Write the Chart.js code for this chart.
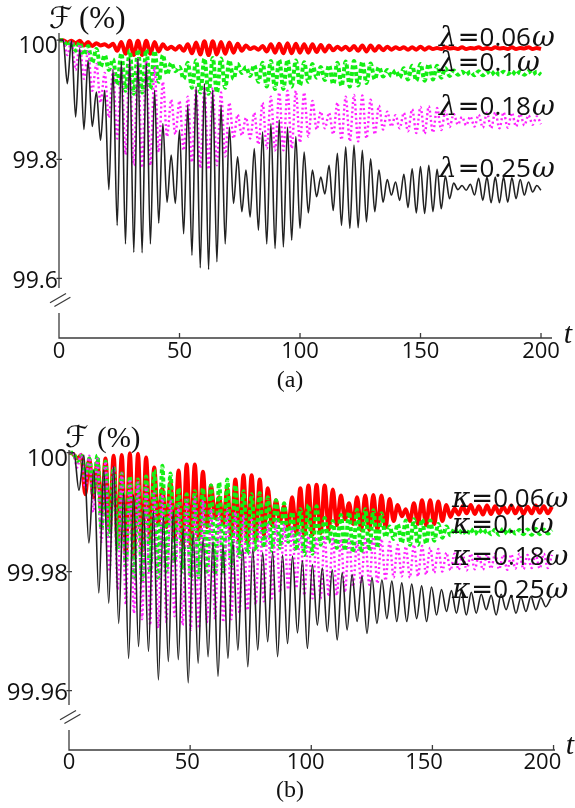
<!DOCTYPE html>
<html>
<head>
<meta charset="utf-8">
<script src="https://cdn.jsdelivr.net/npm/chart.js@4.4.1/dist/chart.umd.min.js"></script>
<style>
  html, body { margin: 0; padding: 0; background: #fff; }
  #wrap { position: relative; width: 575px; height: 808px; }
  canvas { position: absolute; left: 0; }
  #chartA { top: 0; }
  #chartB { top: 400px; }
</style>
</head>
<body>
<div id="wrap">
  <canvas id="chartA" width="575" height="400"></canvas>
  <canvas id="chartB" width="575" height="408"></canvas>
</div>
<script>
// ---- data: troughs (lo) and crests (hi) of each oscillation ----
const xTicks = [0, 50, 100, 150, 200];
const yTicksA = [100, 99.8, 99.6];
const yTicksB = [100, 99.98, 99.96];
const ratesA = ['0.06', '0.1', '0.18', '0.25'];
const ratesB = ['0.06', '0.1', '0.18', '0.25'];

// oscillation periods (time units) measured on the plots
const PERIOD_A = 3.448;
const PERIOD_B = 3.35;
const PERIOD_B_BLACK = 4.1;

// panel (a), lambda = 0.06, 0.1, 0.18, 0.25
const redA_lo = [100.000, 99.996, 99.995, 99.991, 99.990, 99.991, 99.989, 99.982, 99.977, 99.975,
  99.975, 99.977, 99.981, 99.985, 99.984, 99.982, 99.978, 99.976, 99.975, 99.976,
  99.977, 99.979, 99.982, 99.985, 99.984, 99.981, 99.979, 99.978, 99.978, 99.979,
  99.979, 99.980, 99.981, 99.983, 99.984, 99.983, 99.982, 99.981, 99.982, 99.983,
  99.984, 99.985, 99.984, 99.984, 99.984, 99.985, 99.985, 99.986, 99.985, 99.985,
  99.986, 99.985, 99.985, 99.986, 99.985, 99.985, 99.986, 99.985, 99.985];
const redA_hi = [100.000, 99.999, 99.999, 99.997, 99.995, 99.993, 99.994, 99.997, 99.999, 99.999,
  99.999, 99.997, 99.993, 99.989, 99.990, 99.993, 99.996, 99.998, 99.998, 99.997,
  99.996, 99.994, 99.991, 99.988, 99.990, 99.993, 99.994, 99.995, 99.994, 99.993,
  99.993, 99.992, 99.991, 99.989, 99.989, 99.990, 99.991, 99.991, 99.990, 99.989,
  99.988, 99.988, 99.988, 99.989, 99.988, 99.987, 99.988, 99.987, 99.988, 99.987,
  99.988, 99.987, 99.988, 99.987, 99.988, 99.987, 99.988, 99.987];

const greenA_lo = [100.000, 99.990, 99.982, 99.975, 99.962, 99.955, 99.950, 99.925, 99.915, 99.910,
  99.912, 99.918, 99.930, 99.942, 99.948, 99.935, 99.920, 99.912, 99.910, 99.912,
  99.920, 99.935, 99.945, 99.940, 99.930, 99.922, 99.918, 99.918, 99.922, 99.924,
  99.930, 99.937, 99.933, 99.926, 99.923, 99.922, 99.924, 99.928, 99.934, 99.939,
  99.940, 99.937, 99.934, 99.932, 99.932, 99.934, 99.937, 99.940, 99.942, 99.942,
  99.941, 99.941, 99.942, 99.942, 99.943, 99.942, 99.942, 99.943, 99.942];
const greenA_hi = [100.000, 99.998, 99.996, 99.990, 99.985, 99.975, 99.968,
  99.978, 99.982, 99.984, 99.984, 99.982, 99.975, 99.962, 99.955,
  99.962, 99.966, 99.969, 99.970, 99.969, 99.966, 99.960, 99.955,
  99.958, 99.962, 99.965, 99.967, 99.967, 99.966, 99.963,
  99.960, 99.955, 99.958, 99.962, 99.964, 99.965, 99.964, 99.961, 99.955, 99.950,
  99.949, 99.953, 99.957, 99.960, 99.960, 99.957, 99.953, 99.949, 99.947, 99.947,
  99.948, 99.947, 99.948, 99.947, 99.948, 99.947, 99.948, 99.947];

const magentaA_lo = [100.000, 99.975, 99.950, 99.935, 99.915, 99.895, 99.870,
  99.835, 99.808, 99.790, 99.786, 99.790, 99.812, 99.838, 99.842,
  99.815, 99.795, 99.785, 99.783, 99.790, 99.805, 99.835, 99.840, 99.835,
  99.825, 99.818, 99.815, 99.815, 99.818,
  99.828, 99.838, 99.850, 99.852, 99.842, 99.833, 99.830, 99.830, 99.835, 99.842,
  99.850, 99.855, 99.852, 99.847, 99.844, 99.843, 99.845, 99.849, 99.854, 99.858,
  99.857, 99.855, 99.853, 99.852, 99.852, 99.853, 99.855, 99.857, 99.858, 99.859];
const magentaA_hi = [100.000, 99.999, 99.993, 99.982, 99.960, 99.945, 99.950,
  99.955, 99.965, 99.968, 99.965, 99.955, 99.930, 99.900, 99.898,
  99.905, 99.918, 99.922, 99.920, 99.912, 99.895, 99.875, 99.870, 99.878,
  99.895, 99.905, 99.912, 99.915, 99.915,
  99.912, 99.898, 99.880, 99.878, 99.895, 99.905, 99.908, 99.907, 99.900, 99.890,
  99.880, 99.874, 99.878, 99.884, 99.888, 99.889, 99.886, 99.881, 99.876, 99.871,
  99.872, 99.875, 99.878, 99.879, 99.879, 99.878, 99.876, 99.874, 99.872];

const blackA_lo = [100.000, 99.927, 99.871, 99.850, 99.855, 99.832, 99.749, 99.689, 99.658, 99.644,
  99.643, 99.658, 99.693, 99.728, 99.726, 99.675, 99.639, 99.618, 99.615, 99.628,
  99.658, 99.726, 99.712, 99.703, 99.681, 99.658, 99.650, 99.653, 99.664, 99.684,
  99.710, 99.737, 99.742, 99.714, 99.689, 99.684, 99.685, 99.695, 99.712, 99.728,
  99.740, 99.731, 99.719, 99.710, 99.709, 99.712, 99.717, 99.734, 99.749, 99.748,
  99.740, 99.731, 99.727, 99.727, 99.728, 99.734, 99.740, 99.745, 99.748];
const blackA_hi = [100.000, 99.999, 99.986, 99.966, 99.913, 99.916, 99.950, 99.964, 99.969, 99.969,
  99.961, 99.916, 99.860, 99.807, 99.849, 99.891, 99.922, 99.927, 99.916, 99.891,
  99.854, 99.804, 99.782, 99.818, 99.846, 99.860, 99.866, 99.854, 99.838, 99.812,
  99.782, 99.770, 99.790, 99.810, 99.821, 99.824, 99.815, 99.801, 99.782, 99.766,
  99.762, 99.775, 99.784, 99.788, 99.790, 99.783, 99.772, 99.760, 99.756, 99.758,
  99.768, 99.770, 99.770, 99.770, 99.769, 99.766, 99.762, 99.756];

// panel (b), kappa = 0.06, 0.1, 0.18, 0.25
const redB_lo = [100.000, 99.9990, 99.9930, 99.9925, 99.9900, 99.9870, 99.9845, 99.9830, 99.9825, 99.9835, 99.9855,
  99.9880, 99.9875, 99.9855, 99.9845, 99.9845, 99.9855, 99.9875, 99.9890, 99.9880, 99.9860,
  99.9850, 99.9848, 99.9852, 99.9862, 99.9878, 99.9885, 99.9875, 99.9865, 99.9862, 99.9862,
  99.9865, 99.9870, 99.9878, 99.9888, 99.9880, 99.9870, 99.9870, 99.9870, 99.9874, 99.9885,
  99.9893, 99.9885, 99.9880, 99.9878, 99.9880, 99.9885, 99.9892, 99.9896, 99.9898, 99.9897,
  99.9896, 99.9897, 99.9898, 99.9899, 99.9898, 99.9897, 99.9898, 99.9899, 99.9898];
const redB_hi = [99.9998, 99.9996, 99.9990, 99.9985, 99.9990, 99.9995, 99.9996, 99.9999, 99.9998, 99.9992, 99.9975,
  99.9940, 99.9950, 99.9970, 99.9980, 99.9980, 99.9968, 99.9945, 99.9925, 99.9940, 99.9955,
  99.9962, 99.9962, 99.9955, 99.9940, 99.9920, 99.9910, 99.9925, 99.9940, 99.9945, 99.9946,
  99.9945, 99.9938, 99.9928, 99.9915, 99.9925, 99.9928, 99.9929, 99.9928, 99.9922, 99.9912,
  99.9905, 99.9915, 99.9920, 99.9920, 99.9918, 99.9912, 99.9906, 99.9910, 99.9912, 99.9910,
  99.9911, 99.9910, 99.9909, 99.9911, 99.9910, 99.9909, 99.9911, 99.9910, 99.9909];

const greenB_lo = [100.000, 99.9985, 99.9960, 99.9930, 99.9870, 99.9860, 99.9835, 99.9810, 99.9790, 99.9785, 99.9800,
  99.9790, 99.9800, 99.9815, 99.9800, 99.9790, 99.9790, 99.9800, 99.9795, 99.9800, 99.9810,
  99.9825, 99.9830, 99.9835, 99.9840, 99.9835, 99.9840, 99.9850, 99.9835, 99.9828, 99.9830,
  99.9845, 99.9850, 99.9840, 99.9835, 99.9832, 99.9832, 99.9835, 99.9840, 99.9858, 99.9855,
  99.9848, 99.9845, 99.9845, 99.9847, 99.9852, 99.9857, 99.9861, 99.9863, 99.9862, 99.9863,
  99.9864, 99.9863, 99.9862, 99.9863, 99.9864, 99.9863, 99.9862, 99.9863, 99.9864];
const greenB_hi = [100.000, 99.9995, 99.9990, 99.9995, 99.9985, 99.9975, 99.9965, 99.9960, 99.9955, 99.9960, 99.9970,
  99.9978, 99.9965, 99.9940, 99.9930, 99.9935, 99.9940, 99.9945, 99.9950, 99.9955, 99.9945,
  99.9935, 99.9930, 99.9932, 99.9925, 99.9920, 99.9915, 99.9900, 99.9905, 99.9912, 99.9910,
  99.9890, 99.9885, 99.9895, 99.9900, 99.9904, 99.9905, 99.9903, 99.9898, 99.9876, 99.9880,
  99.9886, 99.9888, 99.9888, 99.9886, 99.9880, 99.9876, 99.9872, 99.9871, 99.9872, 99.9871,
  99.9870, 99.9871, 99.9872, 99.9871, 99.9870, 99.9871, 99.9872, 99.9871, 99.9870];

const magentaB_lo = [100.000, 99.9975, 99.9940, 99.9900, 99.9850, 99.9800, 99.9770, 99.9745, 99.9730, 99.9720, 99.9710,
  99.9705, 99.9715, 99.9725, 99.9710, 99.9702, 99.9705, 99.9715, 99.9720, 99.9715, 99.9720,
  99.9730, 99.9735, 99.9745, 99.9750, 99.9755, 99.9765, 99.9770, 99.9772, 99.9760, 99.9755,
  99.9755, 99.9758, 99.9760, 99.9765, 99.9775, 99.9780, 99.9778, 99.9780, 99.9785, 99.9790,
  99.9792, 99.9790, 99.9792, 99.9795, 99.9798, 99.9800, 99.9802, 99.9803, 99.9802, 99.9804,
  99.9803, 99.9805, 99.9804, 99.9803, 99.9805, 99.9804, 99.9806, 99.9805, 99.9806];
const magentaB_hi = [100.000, 99.9998, 99.9995, 99.9990, 99.9985, 99.9975, 99.9965, 99.9955, 99.9950, 99.9945, 99.9935,
  99.9930, 99.9920, 99.9910, 99.9920, 99.9925, 99.9920, 99.9905, 99.9900, 99.9905, 99.9900,
  99.9895, 99.9890, 99.9885, 99.9880, 99.9885, 99.9880, 99.9875, 99.9870, 99.9860, 99.9858,
  99.9860, 99.9858, 99.9855, 99.9855, 99.9850, 99.9855, 99.9858, 99.9855, 99.9850, 99.9845,
  99.9842, 99.9845, 99.9843, 99.9840, 99.9838, 99.9832, 99.9830, 99.9829, 99.9830, 99.9828,
  99.9829, 99.9830, 99.9828, 99.9829, 99.9830, 99.9828, 99.9829, 99.9830, 99.9828];

const blackB_lo = [100.000, 99.9937, 99.9848, 99.9764, 99.9747, 99.9713, 99.9654, 99.9674, 99.9666, 99.9618,
  99.9649, 99.9652, 99.9613, 99.9646, 99.9657, 99.9624, 99.9654, 99.9668, 99.9640, 99.9668,
  99.9682, 99.9657, 99.9679, 99.9697, 99.9671, 99.9710, 99.9699, 99.9685, 99.9702, 99.9716,
  99.9696, 99.9713, 99.9721, 99.9716, 99.9716, 99.9721, 99.9716, 99.9727, 99.9733, 99.9730,
  99.9727, 99.9730, 99.9736, 99.9727, 99.9736, 99.9730, 99.9733, 99.9736, 99.9741];
const blackB_hi = [100.000, 99.9996, 99.9971, 99.9971, 99.9977, 99.9932, 99.9929, 99.9904, 99.9901, 99.9892,
  99.9901, 99.9873, 99.9865, 99.9856, 99.9850, 99.9845, 99.9850, 99.9840, 99.9838, 99.9832,
  99.9833, 99.9828, 99.9826, 99.9818, 99.9812, 99.9806, 99.9803, 99.9798, 99.9795, 99.9792,
  99.9790, 99.9786, 99.9784, 99.9781, 99.9779, 99.9776, 99.9774, 99.9770, 99.9768, 99.9766,
  99.9765, 99.9762, 99.9760, 99.9762, 99.9759, 99.9757, 99.9758, 99.9756, 99.9755];

// ---- helpers ----
function series(lo, hi, period) {
  const pts = [];
  lo.forEach((v, k) => {
    pts.push({ x: k * period, y: v });
    if (k < hi.length) pts.push({ x: (k + 0.5) * period, y: hi[k] });
  });
  return pts;
}

const styles = {
  red: { borderColor: '#ff0000', borderWidth: 4 },
  green: { borderColor: '#14ee14', borderWidth: 4, borderDash: [4, 2.6] },
  magenta: { borderColor: '#ff22ff', borderWidth: 2.4, borderDash: [2, 2.6] },
  black: { borderColor: '#222222', borderWidth: 1.6 }
};

function dataset(label, data, style, order) {
  return Object.assign({
    label, data, order,
    pointRadius: 0,
    cubicInterpolationMode: 'monotone',
    fill: false,
    clip: false,
    borderCapStyle: 'butt',
    borderJoinStyle: 'round'
  }, style);
}

// axes with a broken y axis, tick labels, captions and the curve labels
const decor = {
  id: 'decor',
  afterDatasetsDraw(chart, args, o) {
    const { ctx, chartArea: a } = chart;
    const xs = chart.scales.x, ys = chart.scales.y;
    const ax = xs.getPixelForValue(0);
    ctx.save();
    ctx.strokeStyle = '#3c3c3c';
    ctx.lineWidth = 1.3;
    ctx.beginPath();
    ctx.moveTo(ax, a.top);
    ctx.lineTo(ax, a.bottom - o.gap[0]);
    ctx.moveTo(ax, a.bottom - o.gap[1]);
    ctx.lineTo(ax, a.bottom);
    ctx.lineTo(a.right, a.bottom);
    o.yTicks.forEach(v => {
      const y = ys.getPixelForValue(v);
      ctx.moveTo(ax - 2.5, y);
      ctx.lineTo(ax + 3, y);
    });
    xTicks.forEach(v => {
      if (!v) return;
      const x = xs.getPixelForValue(v);
      ctx.moveTo(x, a.bottom);
      ctx.lineTo(x, a.bottom - 5);
    });
    ctx.stroke();

    // the // break mark
    ctx.beginPath();
    [-1, 1].forEach(s => {
      const cx = ax + 1.2 + s * 2.2, cy = a.bottom - o.breakAt + s * 1.9;
      ctx.moveTo(cx - 8, cy + 4.6);
      ctx.lineTo(cx + 8, cy - 4.6);
    });
    ctx.stroke();

    ctx.fillStyle = '#111';
    ctx.textBaseline = 'alphabetic';

    // y tick labels
    ctx.font = o.yFont;
    ctx.textAlign = 'right';
    o.yTicks.forEach((v, i) => {
      const y = ys.getPixelForValue(v) + (i === 0 ? 5 : 1) + o.yHalf;
      ctx.fillText(String(v), ax - 1, y);
    });

    // x tick labels
    ctx.font = "22px 'Open Sans'";
    ctx.textAlign = 'center';
    xTicks.forEach(v => {
      const x = ax + (xs.getPixelForValue(v) - ax) * o.xLabelScale;
      ctx.fillText(String(v), x, a.bottom + o.xLabelDy);
    });

    // t, caption, title
    ctx.font = "italic 30px 'Liberation Serif'";
    ctx.fillText('t', o.tPos[0], o.tPos[1]);
    ctx.font = "24px 'Liberation Serif'";
    ctx.fillText(o.caption, o.capPos[0], o.capPos[1]);
    ctx.textAlign = 'left';
    ctx.font = "30px 'DejaVu Sans'";
    ctx.fillText('\u2131', o.title[0], o.title[2]);
    ctx.font = o.title[3] + "px 'Liberation Serif'";
    ctx.fillText('(%)', o.title[1], o.title[2]);

    // curve labels
    o.rates.forEach((r, i) => {
      let x = o.legendX;
      const y = o.legendY[i];
      ctx.font = "italic 28px 'DejaVu Serif'";
      ctx.fillText(o.sym, x, y);
      x += ctx.measureText(o.sym).width + 1;
      ctx.font = "26px 'DejaVu Sans'";
      ctx.fillText('=', x, y);
      x += ctx.measureText('=').width;
      ctx.font = "26px 'Open Sans'";
      ctx.fillText(r, x, y);
      x += ctx.measureText(r).width + 1;
      ctx.font = "italic 28px 'DejaVu Serif'";
      ctx.fillText('\u03c9', x, y);
    });
    ctx.restore();
  }
};

function makeChart(id, datasets, opt) {
  return new Chart(document.getElementById(id), {
    type: 'line',
    data: { datasets },
    options: {
      responsive: false,
      animation: false,
      devicePixelRatio: 1,
      events: [],
      layout: { padding: opt.padding },
      scales: {
        x: { type: 'linear', min: 0, max: opt.xMax, display: false },
        y: { type: 'linear', min: opt.yMin, max: opt.yMax, display: false }
      },
      plugins: {
        legend: { display: false },
        tooltip: { enabled: false },
        decor: opt.decor
      }
    },
    plugins: [decor]
  });
}

makeChart('chartA', [
  dataset('\u03bb=0.25\u03c9', series(blackA_lo, blackA_hi, PERIOD_A), styles.black, 0),
  dataset('\u03bb=0.18\u03c9', series(magentaA_lo, magentaA_hi, PERIOD_A), styles.magenta, 1),
  dataset('\u03bb=0.1\u03c9', series(greenA_lo, greenA_hi, PERIOD_A), styles.green, 2),
  dataset('\u03bb=0.06\u03c9', series(redA_lo, redA_hi, PERIOD_A), styles.red, 3)
], {
  padding: { left: 59, right: 23, top: 33, bottom: 62 },
  xMax: 204.56, yMin: 99.5, yMax: 100.012,
  decor: {
    yTicks: yTicksA, yFont: "23px 'Open Sans'", yHalf: 8.2,
    gap: [50, 25], breakAt: 38,
    xLabelScale: 1, xLabelDy: 19.5,
    tPos: [568, 343], caption: '(a)', capPos: [290, 387],
    title: [49, 79, 28, 31],
    sym: '\u03bb', rates: ratesA, legendX: 439, legendY: [46, 70.7, 115, 176.7]
  }
});

makeChart('chartB', [
  dataset('\u03ba=0.25\u03c9', series(blackB_lo, blackB_hi, PERIOD_B_BLACK), styles.black, 0),
  dataset('\u03ba=0.18\u03c9', series(magentaB_lo, magentaB_hi, PERIOD_B), styles.magenta, 1),
  dataset('\u03ba=0.1\u03c9', series(greenB_lo, greenB_hi, PERIOD_B), styles.green, 2),
  dataset('\u03ba=0.06\u03c9', series(redB_lo, redB_hi, PERIOD_B), styles.red, 3)
], {
  padding: { left: 69, right: 20, top: 50, bottom: 58 },
  xMax: 200.6, yMin: 99.95, yMax: 100.00045,
  decor: {
    yTicks: yTicksB, yFont: "24px 'Open Sans'", yHalf: 8.6,
    gap: [45, 20], breakAt: 33,
    xLabelScale: 0.977, xLabelDy: 18.5,
    tPos: [570, 354], caption: '(b)', capPos: [290, 397],
    title: [65, 97, 47, 29],
    sym: '\u03ba', rates: ratesB, legendX: 452, legendY: [106.7, 133.3, 165, 198.3]
  }
});
</script>
</body>
</html>
